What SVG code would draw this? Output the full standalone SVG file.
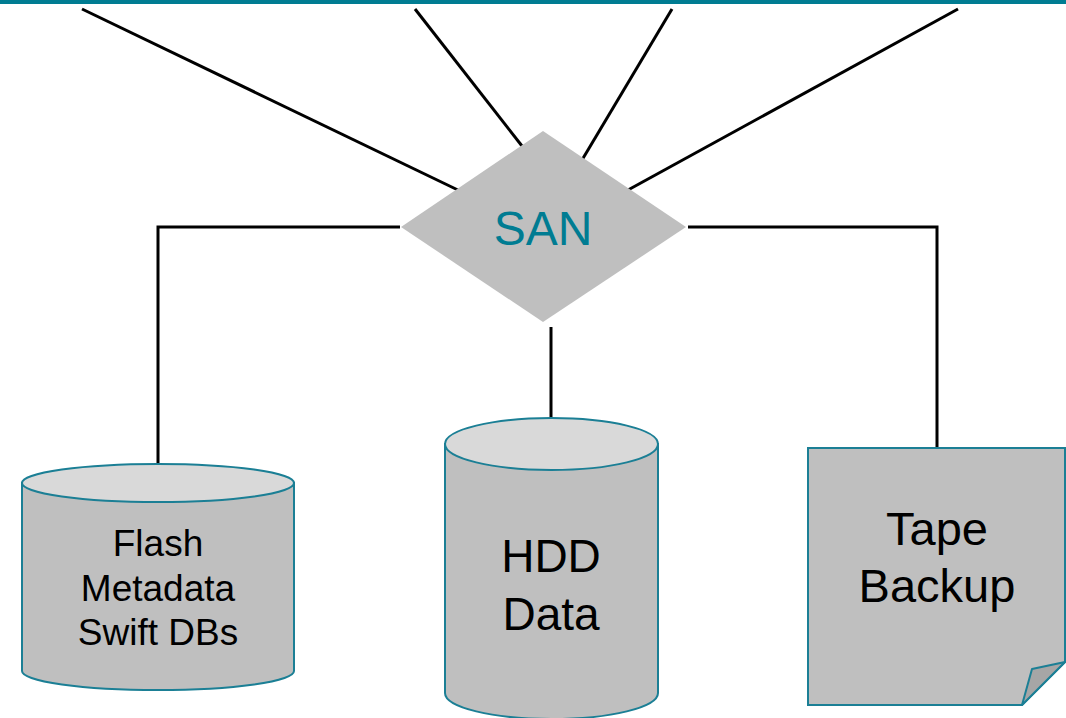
<svg xmlns="http://www.w3.org/2000/svg" width="1066" height="718" viewBox="0 0 1066 718">
<style>
.conn{stroke:#000;stroke-width:3;fill:none}
.body{fill:#BFBFBF;stroke:#1B7F95;stroke-width:2}
.top{fill:#D9D9D9;stroke:#1B7F95;stroke-width:2}
.lbl{font-family:"Liberation Sans",Arial,sans-serif;fill:#000;text-anchor:middle}
</style>
<rect x="0" y="0" width="1066" height="4" fill="#007C92"/>
<g id="connectors">
<line class="conn" x1="82" y1="9" x2="460" y2="191"/>
<line class="conn" x1="415" y1="9" x2="522" y2="146"/>
<line class="conn" x1="672" y1="9" x2="582" y2="160"/>
<line class="conn" x1="958" y1="9" x2="628" y2="190"/>
<polyline class="conn" points="400,227 158,227 158,464"/>
<polyline class="conn" points="688,227 937,227 937,448"/>
<line class="conn" x1="551" y1="327" x2="551" y2="418"/>
</g>
<g id="san">
<polygon points="543,131 686,227 543,322 401,227" fill="#BFBFBF"/>
<text x="543" y="245" font-family="Liberation Sans,Arial,sans-serif" font-size="48" fill="#007C92" text-anchor="middle">SAN</text>
</g>
<g id="flash">
<path class="body" d="M22,483 V671 A136,19 0 0 0 294,671 V483 Z"/>
<ellipse class="top" cx="158" cy="483" rx="136" ry="19"/>
<text class="lbl" font-size="37" x="158" y="556">Flash</text>
<text class="lbl" font-size="37" x="158" y="601">Metadata</text>
<text class="lbl" font-size="37" x="158" y="645">Swift DBs</text>
</g>
<g id="hdd">
<path class="body" d="M445,444 V693 A106.5,26 0 0 0 658,693 V444 Z"/>
<ellipse class="top" cx="551.5" cy="444" rx="106.5" ry="26"/>
<text class="lbl" font-size="46" x="551" y="572">HDD</text>
<text class="lbl" font-size="46" x="551" y="630">Data</text>
</g>
<g id="tape">
<polygon points="808,448 1065,448 1065,662 1022,705 808,705" fill="#BFBFBF" stroke="#1B7F95" stroke-width="2"/>
<polygon points="1022,705 1032,669 1065,662" fill="#A6A6A6" stroke="#1B7F95" stroke-width="2" stroke-linejoin="round"/>
<text class="lbl" font-size="47" x="937" y="545">Tape</text>
<text class="lbl" font-size="47" x="937" y="602">Backup</text>
</g>
</svg>
